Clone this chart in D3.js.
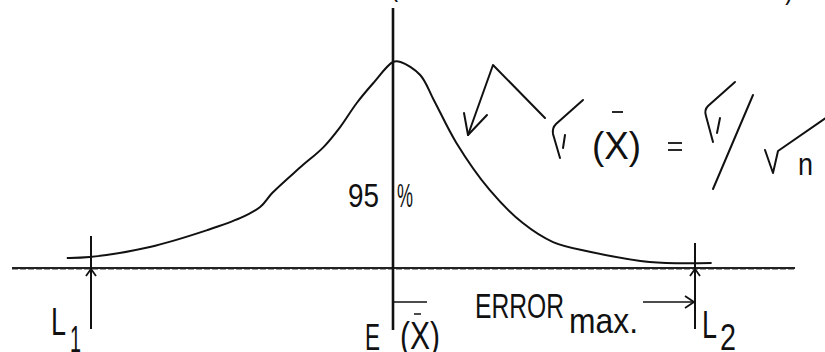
<!DOCTYPE html>
<html>
<head>
<meta charset="utf-8">
<script src="https://cdn.jsdelivr.net/npm/d3@7"></script>
<style>
  html, body { margin: 0; padding: 0; background: #fff; }
  svg { display: block; }
  text { font-family: "Liberation Sans", Arial, sans-serif; fill: #111; }
</style>
</head>
<body>
<script>
// curve (x in std errors from the mean, y relative height)
var curveX = [-2.16, -2.01, -1.61, -1.23, -1.01, -0.88, -0.80, -0.62, -0.46, -0.35, -0.24, -0.13, 0.0, 0.05, 0.18, 0.27, 0.42, 0.64, 0.86, 1.06, 1.31, 1.70, 2.11];
var curveY = [0.049, 0.053, 0.102, 0.184, 0.243, 0.296, 0.364, 0.485, 0.587, 0.684, 0.801, 0.898, 1.0, 1.0, 0.937, 0.816, 0.607, 0.379, 0.218, 0.126, 0.078, 0.029, 0.024];
var limits = [-2, 2];          // L1 , L2
var limitLabels = ['1', '2'];
var meanX = 0;
var pctLabel = ['95', '%'];

var width = 825, height = 352;

var svg = d3.select('body').append('svg')
  .attr('width', width)
  .attr('height', height);

var x = d3.scaleLinear().domain([-2, 2]).range([91, 695]);
var y = d3.scaleLinear().domain([0, 1]).range([268, 62]);

var ink = '#111';

function label(tx, ty, size, len, str) {
  return svg.append('text')
    .attr('x', tx).attr('y', ty)
    .attr('font-size', size)
    .attr('textLength', len).attr('lengthAdjust', 'spacingAndGlyphs')
    .text(str);
}

// cut off line of text at the very top (only the feet show)
label(390, -5, 34, 8, '(');
label(650, -1, 30, 143, 'FIGURE 1.1.)');

// base line
svg.append('line')
  .attr('x1', 12).attr('x2', 795)
  .attr('y1', y(0)).attr('y2', y(0))
  .attr('stroke', '#222').attr('stroke-width', 2);
svg.append('line')
  .attr('x1', 12).attr('x2', 795)
  .attr('y1', y(0) + 1.5).attr('y2', y(0) + 1.5)
  .attr('stroke', '#999').attr('stroke-width', 1).attr('stroke-dasharray', '6,2');

// mean line
svg.append('line')
  .attr('x1', x(meanX)).attr('x2', x(meanX))
  .attr('y1', 8).attr('y2', 330)
  .attr('stroke', ink).attr('stroke-width', 2.6);

// the curve
var pts = curveX.map(function (d, i) { return [d, curveY[i]]; });
var line = d3.line()
  .x(function (d) { return x(d[0]); })
  .y(function (d) { return y(d[1]); })
  .curve(d3.curveCatmullRom.alpha(0.5));

svg.append('path')
  .datum(pts)
  .attr('d', line)
  .attr('fill', 'none')
  .attr('stroke', ink)
  .attr('stroke-width', 2);

// limit ticks L1 L2
var lim = svg.selectAll('g.lim')
  .data(limits)
  .enter()
  .append('g')
  .attr('class', 'lim')
  .attr('transform', function (d) { return 'translate(' + x(d) + ',0)'; });

lim.append('line')
  .attr('y1', function (d, i) { return i == 0 ? 236 : 243; })
  .attr('y2', 329)
  .attr('stroke', ink).attr('stroke-width', 2);

// little up-arrow under the base line
lim.append('path')
  .attr('d', 'M-5,' + (y(0) + 8) + 'L0,' + (y(0) + 1) + 'L5,' + (y(0) + 8))
  .attr('fill', 'none').attr('stroke', ink).attr('stroke-width', 1.8);

lim.append('text')
  .attr('x', function (d, i) { return i == 0 ? -40 : 7; })
  .attr('y', function (d, i) { return i == 0 ? 335 : 338; })
  .attr('font-size', 38)
  .attr('textLength', 15).attr('lengthAdjust', 'spacingAndGlyphs')
  .text('L');

lim.append('text')
  .attr('x', function (d, i) { return i == 0 ? -21 : 25; })
  .attr('y', function (d, i) { return i == 0 ? 352 : 350; })
  .attr('font-size', 36)
  .attr('textLength', function (d, i) { return i == 0 ? 11 : 16; })
  .attr('lengthAdjust', 'spacingAndGlyphs')
  .text(function (d, i) { return limitLabels[i]; });

// 95 %
svg.append('text').attr('x', 348).attr('y', 207).attr('font-size', 34)
  .attr('font-family', 'DejaVu Sans, sans-serif').attr('font-weight', 200)
  .attr('textLength', 31).attr('lengthAdjust', 'spacingAndGlyphs').text(pctLabel[0]);
label(397, 207, 33, 16, pctLabel[1]);

// E (x)
label(365, 350, 36, 15, 'E');
label(400, 349, 38, 40, '(X)');
svg.append('line').attr('x1', 414).attr('x2', 421).attr('y1', 314).attr('y2', 314)
  .attr('stroke', ink).attr('stroke-width', 1.5);

// error max dimension
svg.append('line').attr('x1', x(meanX)).attr('x2', 427).attr('y1', 302).attr('y2', 302)
  .attr('stroke', ink).attr('stroke-width', 1.6);
svg.append('line').attr('x1', 643).attr('x2', x(limits[1]) - 1).attr('y1', 302).attr('y2', 302)
  .attr('stroke', ink).attr('stroke-width', 1.6);
svg.append('path')
  .attr('d', 'M' + (x(limits[1]) - 10) + ',296L' + (x(limits[1]) - 1) + ',302L' + (x(limits[1]) - 10) + ',308')
  .attr('fill', 'none').attr('stroke', ink).attr('stroke-width', 1.8);

label(475, 318, 35, 89, 'ERROR');
label(569, 333, 35, 69, 'max.');

// pointer arrow to the curve
var pen = { fill: 'none', stroke: ink, 'stroke-width': 2, 'stroke-linecap': 'round', 'stroke-linejoin': 'round' };
function stroke(d) {
  var p = svg.append('path').attr('d', d);
  Object.keys(pen).forEach(function (k) { p.attr(k, pen[k]); });
  return p;
}
stroke('M545,118L493,65L468,135');
stroke('M464,113L468,135L487,115');

// sigma(x) = sigma / sqrt n , written with check-like signs
stroke('M583,100L556,124Q552,128 553,134L560,158');
stroke('M565,135L563,148');
label(592, 159, 38, 49, '(X)');
svg.append('line').attr('x1', 612).attr('x2', 623).attr('y1', 112).attr('y2', 112)
  .attr('stroke', ink).attr('stroke-width', 1.8);
svg.append('line').attr('x1', 668).attr('x2', 682).attr('y1', 143).attr('y2', 143)
  .attr('stroke', ink).attr('stroke-width', 1.8);
svg.append('line').attr('x1', 668).attr('x2', 682).attr('y1', 150).attr('y2', 150)
  .attr('stroke', ink).attr('stroke-width', 1.8);

stroke('M735,82L708,106Q704,110 706,116L713,142');
stroke('M720,118L717,133');
stroke('M753,95L713,189');
stroke('M765,150L773,173L778,151L830,115');
label(798, 175, 32, 15, 'n');
</script>
</body>
</html>
